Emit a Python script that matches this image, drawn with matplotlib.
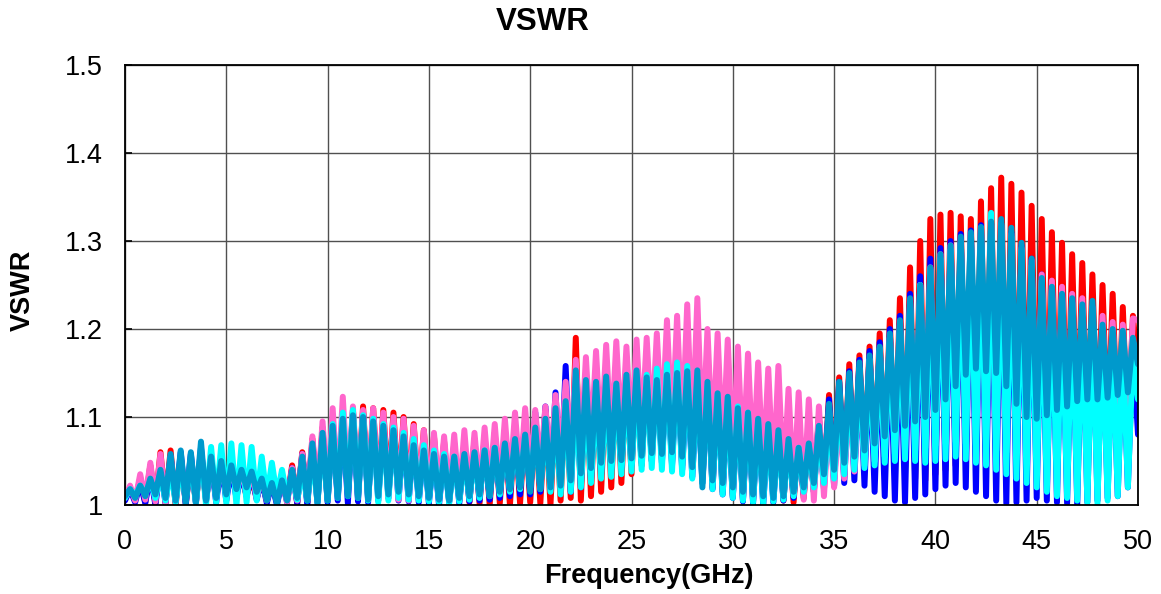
import numpy as np
import matplotlib
matplotlib.use("Agg")
import matplotlib.pyplot as plt

plt.rcParams['font.family'] = ['Liberation Sans', 'DejaVu Sans']

# Frequency grid: troughs at 0, 0.5, ... 50 GHz ; peaks at 0.25, 0.75, ... 49.75 GHz
freq_step = 0.25

red_peaks = [
    1.020, 1.030, 1.045, 1.060, 1.062, 1.055, 1.050, 1.058, 1.050, 1.045,
    1.040, 1.035, 1.030, 1.028, 1.025, 1.030, 1.045, 1.060, 1.075, 1.088,
    1.098, 1.105, 1.108, 1.112, 1.110, 1.108, 1.105, 1.100, 1.092, 1.085,
    1.078, 1.072, 1.070, 1.070, 1.075, 1.078, 1.082, 1.085, 1.090, 1.095,
    1.100, 1.108, 1.115, 1.130, 1.190, 1.150, 1.152, 1.150, 1.155, 1.150,
    1.155, 1.160, 1.165, 1.170, 1.172, 1.165, 1.155, 1.145, 1.138, 1.130,
    1.122, 1.115, 1.108, 1.100, 1.092, 1.085, 1.080, 1.085, 1.100, 1.125,
    1.145, 1.160, 1.170, 1.180, 1.195, 1.210, 1.235, 1.270, 1.300, 1.325,
    1.330, 1.332, 1.328, 1.325, 1.345, 1.360, 1.372, 1.365, 1.355, 1.340,
    1.325, 1.310, 1.298, 1.285, 1.275, 1.262, 1.250, 1.240, 1.225, 1.215,
]
red_troughs = [
    1.008, 1.005, 1.003, 1.002, 1.003, 1.000, 1.002, 1.003, 1.005, 1.008,
    1.010, 1.012, 1.010, 1.008, 1.005, 1.003, 1.005, 1.002, 1.003, 1.005,
    1.006, 1.010, 1.012, 1.010, 1.008, 1.012, 1.015, 1.012, 1.010, 1.008,
    1.006, 1.005, 1.004, 1.005, 1.003, 1.002, 1.000, 1.002, 1.000, 1.002,
    1.003, 1.002, 1.000, 1.005, 1.008, 1.005, 1.010, 1.015, 1.020, 1.025,
    1.035, 1.045, 1.050, 1.052, 1.048, 1.045, 1.040, 1.030, 1.020, 1.015,
    1.010, 1.006, 1.005, 1.008, 1.010, 1.005, 1.003, 1.008, 1.015, 1.022,
    1.030, 1.035, 1.040, 1.045, 1.048, 1.050, 1.045, 1.040, 1.030, 1.028,
    1.035, 1.040, 1.045, 1.050, 1.055, 1.052, 1.045, 1.040, 1.042, 1.045,
    1.048, 1.050, 1.052, 1.055, 1.060, 1.062, 1.065, 1.070, 1.072, 1.075,
    1.150,
]

blue_peaks = [
    1.018, 1.025, 1.035, 1.045, 1.055, 1.060, 1.058, 1.065, 1.052, 1.048,
    1.042, 1.038, 1.035, 1.030, 1.025, 1.028, 1.042, 1.058, 1.072, 1.085,
    1.092, 1.100, 1.105, 1.105, 1.100, 1.095, 1.090, 1.082, 1.075, 1.068,
    1.062, 1.060, 1.060, 1.062, 1.065, 1.068, 1.072, 1.078, 1.085, 1.095,
    1.105, 1.112, 1.128, 1.158, 1.150, 1.145, 1.140, 1.142, 1.145, 1.142,
    1.145, 1.150, 1.152, 1.155, 1.158, 1.150, 1.140, 1.135, 1.128, 1.120,
    1.115, 1.108, 1.100, 1.092, 1.085, 1.078, 1.072, 1.080, 1.098, 1.120,
    1.140, 1.152, 1.165, 1.175, 1.185, 1.200, 1.215, 1.240, 1.260, 1.280,
    1.292, 1.300, 1.308, 1.312, 1.318, 1.320, 1.318, 1.310, 1.295, 1.280,
    1.262, 1.252, 1.245, 1.238, 1.230, 1.225, 1.210, 1.200, 1.190, 1.180,
]
blue_troughs = [
    1.005, 1.003, 1.002, 1.000, 1.002, 1.003, 1.000, 1.002, 1.005, 1.003,
    1.005, 1.008, 1.010, 1.006, 1.002, 1.000, 1.003, 1.002, 1.000, 1.002,
    1.003, 1.005, 1.002, 1.004, 1.003, 1.005, 1.008, 1.005, 1.004, 1.003,
    1.002, 1.000, 1.003, 1.002, 1.004, 1.005, 1.006, 1.008, 1.010, 1.012,
    1.012, 1.015, 1.018, 1.020, 1.015, 1.020, 1.028, 1.035, 1.040, 1.042,
    1.045, 1.048, 1.050, 1.048, 1.045, 1.040, 1.032, 1.025, 1.018, 1.012,
    1.008, 1.004, 1.002, 1.000, 1.003, 1.005, 1.008, 1.012, 1.015, 1.018,
    1.022, 1.025, 1.028, 1.022, 1.015, 1.010, 1.005, 1.003, 1.008, 1.012,
    1.018, 1.022, 1.025, 1.020, 1.015, 1.010, 1.005, 1.002, 1.003, 1.005,
    1.008, 1.005, 1.003, 1.002, 1.000, 1.003, 1.005, 1.008, 1.010, 1.020,
    1.080,
]

pink_peaks = [
    1.022, 1.035, 1.048, 1.058, 1.055, 1.052, 1.050, 1.055, 1.052, 1.048,
    1.045, 1.040, 1.038, 1.032, 1.028, 1.030, 1.042, 1.058, 1.078, 1.095,
    1.110, 1.123, 1.112, 1.108, 1.110, 1.105, 1.100, 1.098, 1.090, 1.085,
    1.082, 1.078, 1.080, 1.085, 1.082, 1.088, 1.092, 1.098, 1.105, 1.110,
    1.108, 1.112, 1.125, 1.140, 1.165, 1.168, 1.175, 1.182, 1.186, 1.180,
    1.188, 1.190, 1.195, 1.210, 1.215, 1.228, 1.235, 1.200, 1.195, 1.188,
    1.180, 1.172, 1.162, 1.155, 1.158, 1.132, 1.128, 1.120, 1.112, 1.108,
    1.110, 1.130, 1.150, 1.165, 1.175, 1.190, 1.205, 1.230, 1.250, 1.270,
    1.285, 1.295, 1.300, 1.305, 1.312, 1.318, 1.318, 1.308, 1.292, 1.278,
    1.262, 1.255, 1.248, 1.240, 1.235, 1.225, 1.215, 1.208, 1.205, 1.212,
]
pink_troughs = [
    1.008, 1.005, 1.006, 1.004, 1.003, 1.005, 1.008, 1.006, 1.008, 1.010,
    1.012, 1.015, 1.012, 1.008, 1.005, 1.004, 1.003, 1.005, 1.008, 1.010,
    1.012, 1.015, 1.018, 1.015, 1.012, 1.010, 1.008, 1.006, 1.005, 1.008,
    1.010, 1.012, 1.010, 1.008, 1.012, 1.015, 1.018, 1.020, 1.025, 1.030,
    1.035, 1.040, 1.045, 1.050, 1.055, 1.060, 1.065, 1.068, 1.070, 1.072,
    1.075, 1.078, 1.080, 1.082, 1.080, 1.075, 1.070, 1.065, 1.060, 1.055,
    1.050, 1.045, 1.040, 1.035, 1.028, 1.020, 1.012, 1.006, 1.005, 1.010,
    1.020, 1.030, 1.038, 1.045, 1.050, 1.055, 1.058, 1.060, 1.062, 1.065,
    1.068, 1.070, 1.072, 1.070, 1.068, 1.065, 1.062, 1.060, 1.062, 1.065,
    1.068, 1.070, 1.072, 1.075, 1.078, 1.080, 1.082, 1.085, 1.088, 1.090,
    1.210,
]

cyan_peaks = [
    1.018, 1.022, 1.028, 1.035, 1.040, 1.045, 1.050, 1.062, 1.066, 1.068,
    1.070, 1.068, 1.066, 1.055, 1.048, 1.040, 1.035, 1.040, 1.055, 1.075,
    1.092, 1.105, 1.108, 1.102, 1.098, 1.092, 1.088, 1.082, 1.075, 1.068,
    1.062, 1.058, 1.055, 1.055, 1.058, 1.062, 1.065, 1.068, 1.072, 1.078,
    1.082, 1.090, 1.100, 1.115, 1.125, 1.118, 1.125, 1.130, 1.135, 1.138,
    1.142, 1.148, 1.155, 1.160, 1.162, 1.158, 1.145, 1.135, 1.125, 1.118,
    1.112, 1.105, 1.095, 1.085, 1.078, 1.070, 1.065, 1.068, 1.080, 1.100,
    1.125, 1.140, 1.155, 1.165, 1.178, 1.190, 1.205, 1.230, 1.250, 1.268,
    1.280, 1.290, 1.298, 1.305, 1.315, 1.332, 1.320, 1.305, 1.290, 1.272,
    1.255, 1.245, 1.238, 1.230, 1.222, 1.215, 1.200, 1.190, 1.180, 1.170,
]
cyan_troughs = [
    1.008, 1.010, 1.012, 1.008, 1.005, 1.003, 1.005, 1.002, 1.000, 1.003,
    1.002, 1.000, 1.003, 1.005, 1.008, 1.010, 1.008, 1.006, 1.005, 1.003,
    1.005, 1.008, 1.010, 1.008, 1.005, 1.003, 1.005, 1.008, 1.006, 1.005,
    1.004, 1.003, 1.002, 1.004, 1.006, 1.008, 1.010, 1.012, 1.015, 1.018,
    1.020, 1.018, 1.015, 1.012, 1.015, 1.020, 1.025, 1.030, 1.032, 1.035,
    1.038, 1.040, 1.042, 1.040, 1.038, 1.035, 1.030, 1.025, 1.018, 1.012,
    1.008, 1.005, 1.003, 1.002, 1.004, 1.006, 1.010, 1.015, 1.020, 1.025,
    1.030, 1.035, 1.040, 1.042, 1.045, 1.048, 1.050, 1.052, 1.050, 1.048,
    1.050, 1.052, 1.055, 1.052, 1.048, 1.045, 1.040, 1.035, 1.030, 1.025,
    1.020, 1.015, 1.010, 1.008, 1.005, 1.003, 1.002, 1.005, 1.010, 1.020,
    1.120,
]

teal_peaks = [
    1.018, 1.022, 1.030, 1.040, 1.058, 1.062, 1.060, 1.072, 1.055, 1.050,
    1.045, 1.040, 1.038, 1.030, 1.025, 1.028, 1.040, 1.055, 1.070, 1.082,
    1.090, 1.098, 1.102, 1.100, 1.095, 1.090, 1.085, 1.078, 1.068, 1.062,
    1.058, 1.055, 1.055, 1.058, 1.060, 1.062, 1.065, 1.070, 1.075, 1.080,
    1.088, 1.098, 1.110, 1.118, 1.153, 1.142, 1.140, 1.146, 1.138, 1.148,
    1.153, 1.145, 1.142, 1.148, 1.150, 1.152, 1.153, 1.140, 1.127, 1.123,
    1.110, 1.105, 1.098, 1.092, 1.085, 1.075, 1.065, 1.070, 1.090, 1.115,
    1.140, 1.150, 1.162, 1.170, 1.180, 1.195, 1.210, 1.235, 1.250, 1.270,
    1.285, 1.295, 1.305, 1.310, 1.316, 1.322, 1.325, 1.315, 1.298, 1.280,
    1.258, 1.248, 1.240, 1.235, 1.228, 1.232, 1.205, 1.200, 1.198, 1.190,
]
teal_troughs = [
    1.010, 1.008, 1.010, 1.012, 1.008, 1.005, 1.002, 1.003, 1.005, 1.008,
    1.012, 1.018, 1.020, 1.015, 1.005, 1.002, 1.005, 1.008, 1.005, 1.003,
    1.005, 1.008, 1.010, 1.008, 1.006, 1.010, 1.012, 1.015, 1.012, 1.010,
    1.008, 1.006, 1.005, 1.008, 1.010, 1.012, 1.010, 1.015, 1.018, 1.020,
    1.015, 1.018, 1.020, 1.022, 1.028, 1.036, 1.042, 1.048, 1.050, 1.051,
    1.053, 1.056, 1.059, 1.058, 1.060, 1.055, 1.043, 1.020, 1.028, 1.025,
    1.020, 1.015, 1.012, 1.010, 1.008, 1.010, 1.015, 1.020, 1.025, 1.035,
    1.040, 1.048, 1.055, 1.062, 1.070, 1.078, 1.085, 1.090, 1.095, 1.100,
    1.108, 1.120, 1.135, 1.148, 1.155, 1.152, 1.150, 1.135, 1.115, 1.100,
    1.098, 1.102, 1.108, 1.112, 1.118, 1.120, 1.120, 1.122, 1.125, 1.128,
    1.160,
]

series = [
    ("red", red_peaks, red_troughs),
    ("#0000FF", blue_peaks, blue_troughs),
    ("#FF66CC", pink_peaks, pink_troughs),
    ("#00FFFF", cyan_peaks, cyan_troughs),
    ("#0099CC", teal_peaks, teal_troughs),
]

x_ticks = [0, 5, 10, 15, 20, 25, 30, 35, 40, 45, 50]
y_ticks = [1.0, 1.1, 1.2, 1.3, 1.4, 1.5]
y_tick_labels = ["1", "1.1", "1.2", "1.3", "1.4", "1.5"]

W, H = 1161, 594
fig = plt.figure(figsize=(W / 100, H / 100), dpi=100)
ax = fig.add_axes([125 / W, 1 - 505 / H, (1138 - 125) / W, (505 - 65) / H])

for color, peaks, troughs in series:
    vals = np.empty(len(peaks) + len(troughs))
    vals[0::2] = troughs
    vals[1::2] = peaks
    freqs = np.arange(len(vals)) * freq_step
    ax.plot(freqs, vals, color=color, lw=4.3, solid_joinstyle='round',
            solid_capstyle='round', zorder=3)

ax.set_xlim(0, 50)
ax.set_ylim(1.0, 1.5)
ax.set_xticks(x_ticks)
ax.set_xticklabels([str(t) for t in x_ticks])
ax.set_yticks(y_ticks)
ax.set_yticklabels(y_tick_labels)
ax.grid(True, color='#505050', lw=1.0, zorder=1)
ax.tick_params(axis='y', direction='in', length=5, width=1.2,
               labelsize=19.5, pad=16)
ax.tick_params(axis='x', direction='in', length=0,
               labelsize=19.5, pad=17)
for sp in ax.spines.values():
    sp.set_color('black')
    sp.set_linewidth(1.3)
    sp.set_zorder(5)

fig.text(543 / W, 1 - 22 / H, "VSWR", fontsize=22.5, fontweight='bold',
         ha='center', va='center')
fig.text(649 / W, 1 - 576 / H, "Frequency(GHz)", fontsize=19.5,
         fontweight='bold', ha='center', va='center')
fig.text(23 / W, 1 - 290 / H, "VSWR", fontsize=19.5, fontweight='bold',
         ha='center', va='center', rotation=90)

fig.savefig("out.png", dpi=100)
